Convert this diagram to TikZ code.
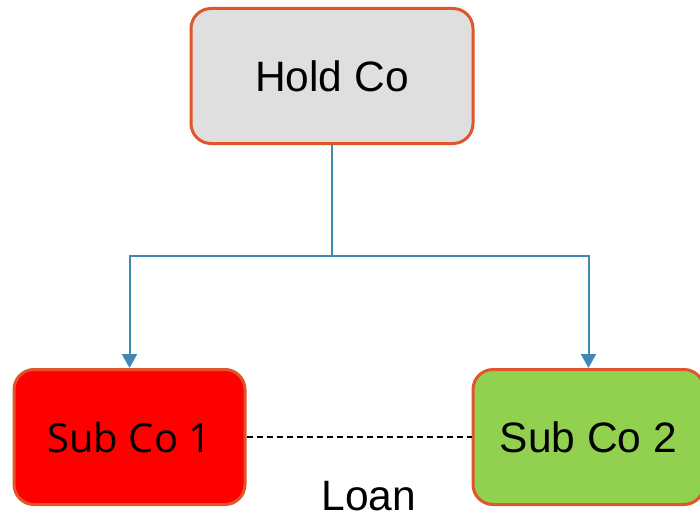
\documentclass[tikz,border=0pt]{standalone}
\usepackage{fontspec}
\setmainfont{Liberation Sans}
\newfontfamily\subfont{Open Sans}
\usetikzlibrary{arrows.meta}
\definecolor{edgeorange}{HTML}{E0552B}
\definecolor{holdgrey}{HTML}{DFDFDF}
\definecolor{subgreen}{HTML}{92D050}
\definecolor{linkblue}{HTML}{3F88B8}
\tikzset{
  company/.style={draw=edgeorange, line width=3pt, rounded corners=20pt,
    minimum width=#1, minimum height=135pt, inner sep=0pt,
    font=\fontsize{42.5}{42.5}\selectfont},
  company/.default=231pt,
  owns/.style={draw=linkblue, line width=2pt,
    -{Triangle[width=15pt,length=14pt]}},
  loanline/.style={draw=black, line width=1.2pt, dash pattern=on 6pt off 4pt}
}
\begin{document}
\begin{tikzpicture}[x=1pt,y=-1pt]
  \useasboundingbox (0,0) rectangle (700,516);
  \node[company=282pt, fill=holdgrey] (hold) at (332,76) {Hold Co};
  \node[company, fill=red] (sub1) at (129.5,437) {\fontsize{40}{40}\subfont Sub Co 1};
  \node[company, fill=subgreen] (sub2) at (588.5,437) {Sub Co 2};
  \coordinate (split) at (332,256);
  \draw[owns] (hold.south) -- (split) -| (sub1.north);
  \draw[owns] (split) -| (sub2.north);
  \draw[loanline] (sub1.east) -- (sub2.west);
  \node[font=\fontsize{42.5}{42.5}\selectfont, anchor=base, inner sep=0pt] (loan) at (369,510) {Loan};
\end{tikzpicture}
\end{document}
